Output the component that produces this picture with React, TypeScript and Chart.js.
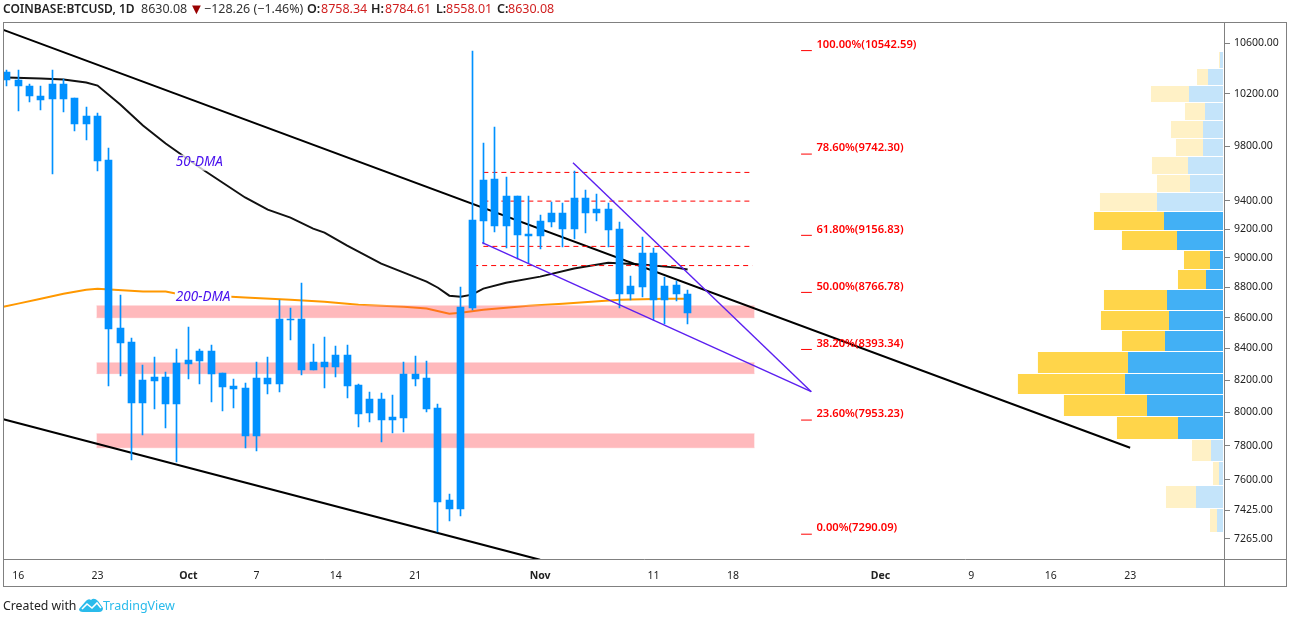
import { useEffect, useRef } from "react";
import { Chart, registerables } from "chart.js";

Chart.register(...registerables);

const FONT = '"Noto Sans", "Open Sans", sans-serif';

// Days are counted from 16 Sep (day 0). First candle sits one day before that.
const candleDays = Array.from({ length: 61 }, (_, i) => i - 1);
const highs = [
  10384, 10384, 10281, 10265, 10384, 10313, 10172, 10102, 10056, 9784, 8752, 8469, 8297, 8348, 8253, 8399,
  8541, 8399, 8424, 8246, 8209, 8183, 8316, 8348, 8719, 8665, 8832, 8431, 8476, 8418, 8424, 8177,
  8127, 8121, 8109, 8316, 8354, 8322, 8053, 7519, 8805, 10543, 9828, 9942, 9576, 9439, 9439, 9303,
  9396, 9389, 9614, 9482, 9453, 9382, 9253, 8880, 9148, 9072, 8873, 8846, 8784,
];
const lows = [
  10265, 10071, 10141, 10079, 9592, 10064, 9919, 9851, 9614, 8164, 8227, 7716, 7865, 8022, 7907, 7704,
  8209, 8177, 8066, 8010, 8028, 7787, 7769, 8115, 8127, 8456, 8234, 8265, 8152, 8221, 8090, 7913,
  7943, 7823, 7877, 7883, 8164, 8004, 7303, 7365, 7393, 8652, 9099, 9183, 9072, 8996, 8968, 9065,
  9218, 9079, 9134, 9176, 9260, 9079, 8665, 8719, 8738, 8586, 8560, 8712, 8558,
];
const bodyTops = [
  10368, 10305, 10265, 10187, 10281, 10281, 10172, 10033, 10033, 9701, 8534, 8443, 8202, 8221, 8221, 8309,
  8328, 8386, 8386, 8246, 8164, 8152, 8215, 8215, 8593, 8593, 8593, 8316, 8316, 8360, 8360, 8171,
  8084, 8084, 7973, 8240, 8240, 8215, 8028, 7485, 8672, 9267, 9554, 9562, 9439, 9439, 9169, 9260,
  9317, 9317, 9418, 9418, 9345, 9345, 9204, 8812, 9037, 9037, 8812, 8819, 8758,
];
const bodyBottoms = [
  10305, 10258, 10180, 10149, 10157, 10164, 9972, 9972, 9694, 8528, 8437, 8060, 8060, 8196, 8053, 8053,
  8303, 8322, 8240, 8158, 8146, 7859, 7859, 8177, 8177, 8586, 8265, 8265, 8284, 8284, 8164, 7992,
  7998, 7955, 7955, 7967, 8209, 8022, 7473, 7433, 7433, 8665, 9260, 9225, 9225, 9162, 9155, 9155,
  9253, 9204, 9204, 9317, 9317, 9197, 8758, 8758, 8805, 8719, 8719, 8758, 8630,
];

const dma50Days = [-1, 2, 4, 6, 7, 9, 11, 13, 16, 20, 22, 24, 26, 27, 29, 32, 34, 36, 37, 38, 39, 40, 41, 43, 46, 49, 52, 55, 58, 59];
const dma50Values = [
  10329, 10321, 10313, 10289, 10265, 10118, 9957, 9821, 9643, 9425, 9338, 9281, 9204, 9176, 9085, 8961,
  8900, 8839, 8798, 8745, 8738, 8752, 8792, 8832, 8873, 8928, 8968, 8955, 8934, 8921,
];
const dma200Days = [-1.3, 0, 2, 4, 6, 7, 11, 13, 14, 20, 24, 27, 30, 34, 36, 38, 39, 41, 45, 48, 53, 57, 59];
const dma200Values = [
  8672, 8692, 8725, 8758, 8785, 8792, 8772, 8772, 8758, 8732, 8718, 8705, 8685, 8672, 8659, 8625, 8632,
  8652, 8678, 8692, 8718, 8725, 8725,
];

const bandRanges = [
  [8599, 8678],
  [8240, 8309],
  [7787, 7871],
];
const bandStart = 6.9;
const bandEnd = 64.9;

const trendBlackUpper = [
  { x: -1.3, y: 10711 },
  { x: 98, y: 7787 },
];
const trendBlackLower = [
  { x: -1.3, y: 7958 },
  { x: 46, y: 7149 },
];
const wedgeUpper = [
  { x: 48.9, y: 9679 },
  { x: 69.9, y: 8127 },
];
const wedgeLower = [
  { x: 40.9, y: 9106 },
  { x: 69.9, y: 8127 },
];

const dashedLevels = [9607, 9399, 9080, 8948];
const dashedStarts = [41, 41, 41, 40.1];
const dashedEnd = 64.7;

const fibLevels = [10542.59, 9742.3, 9156.83, 8766.78, 8393.34, 7953.23, 7290.09];
const fibLabels = ["100.00%", "78.60%", "61.80%", "50.00%", "38.20%", "23.60%", "0.00%"];

const maLabels = ["50-DMA", "200-DMA"];
const maLabelDays = [13.9, 13.9];
const maLabelPrices = [9679, 8738];

// Volume profile rows, bottom to top
const profileEdges = [
  7298, 7433, 7565, 7704, 7835, 7973, 8109, 8240, 8379, 8515, 8645, 8785, 8921, 9051, 9190, 9324, 9460,
  9591, 9723, 9858, 9995, 10133, 10265, 10398, 10535,
];
const profileBuy = [6, 27, 4, 12, 45, 76, 98, 95, 58, 54, 56, 17, 13, 46, 59, 66, 33, 35, 20, 20, 18, 34, 15, 3];
const profileSell = [7, 30, 6, 19, 61, 83, 107, 90, 43, 68, 63, 28, 26, 55, 70, 57, 33, 36, 27, 32, 20, 38, 11, 1];
const profileStrong = [4, 14]; // rows inside the value area

const priceTicks = [10600, 10200, 9800, 9400, 9200, 9000, 8800, 8600, 8400, 8200, 8000, 7800, 7600, 7425, 7265];
const dayTicks = [0, 7, 15, 21, 28, 35, 46, 56, 63, 76, 84, 91, 98];
const dayTickLabels = ["16", "23", "Oct", "7", "14", "21", "Nov", "11", "18", "Dec", "9", "16", "23"];
const monthTicks = ["Oct", "Nov", "Dec"];

const CANDLE = "#0091ff";
const FRAME = "#808080";

const pairs = (xs: number[], ys: number[]) => xs.map((x, i) => ({ x, y: ys[i] }));

const overlayPlugin = {
  id: "overlay",
  // candles are pixel-snapped, the way the original renderer draws them
  afterDatasetsUpdate(chart: Chart) {
    chart.data.datasets.forEach((ds: any, i) => {
      if (ds.label !== "wicks" && ds.label !== "bodies") return;
      chart.getDatasetMeta(i).data.forEach((el: any) => {
        el.x = Math.floor(el.x) + 0.5;
        el.y = Math.round(el.y);
        el.base = Math.round(el.base);
      });
    });
  },
  beforeDatasetsDraw(chart: Chart) {
    const { ctx, scales } = chart;
    const y = scales.y;
    const v = scales.xVol;
    ctx.save();
    profileBuy.forEach((buy, i) => {
      const strong = i >= profileStrong[0] && i <= profileStrong[1];
      const top = Math.round(y.getPixelForValue(profileEdges[i + 1]));
      const h = Math.round(y.getPixelForValue(profileEdges[i])) - top - 1;
      const x0 = v.getPixelForValue(2);
      const x1 = v.getPixelForValue(2 + buy);
      const x2 = v.getPixelForValue(2 + buy + profileSell[i]);
      ctx.fillStyle = strong ? "#42b0f5" : "#c4e4fa";
      ctx.fillRect(x1, top, x0 - x1, h);
      ctx.fillStyle = strong ? "#ffd54a" : "#fff1c6";
      ctx.fillRect(x2, top, x1 - x2, h);
    });
    ctx.restore();
  },
  afterDatasetsDraw(chart: Chart) {
    const { ctx, scales } = chart;
    const x = scales.x;
    const y = scales.y;
    ctx.save();
    ctx.textBaseline = "middle";
    ctx.textAlign = "left";
    ctx.font = `italic 13.5px ${FONT}`;
    maLabels.forEach((label, i) => {
      const px = x.getPixelForValue(maLabelDays[i]);
      const py = y.getPixelForValue(maLabelPrices[i]);
      const w = ctx.measureText(label).width;
      ctx.fillStyle = i === 0 ? "rgba(255,255,255,0.75)" : "#ffffff";
      ctx.fillRect(px - 1, py - 8, w + 2, 16);
      ctx.fillStyle = "#4a12ee";
      ctx.fillText(label, px, py);
    });
    ctx.font = `600 11.2px ${FONT}`;
    ctx.fillStyle = "#ff0000";
    fibLevels.forEach((level, i) => {
      const text = `${fibLabels[i]}(${level.toFixed(2)})`;
      ctx.fillText(text, x.getPixelForValue(70.35), y.getPixelForValue(level) - 6);
    });
    ctx.restore();
  },
  afterDraw(chart: Chart) {
    // outer frame of the TradingView pane plus the time axis line running into the price column
    const { ctx } = chart;
    const b = chart.chartArea;
    ctx.save();
    ctx.strokeStyle = FRAME;
    ctx.lineWidth = 1;
    ctx.strokeRect(3.5, 22.5, 1283, 564);
    ctx.beginPath();
    ctx.moveTo(b.left, 559.5);
    ctx.lineTo(1286, 559.5);
    ctx.moveTo(1224.5, 22);
    ctx.lineTo(1224.5, 586);
    ctx.stroke();
    ctx.restore();
  },
};

function line(data: { x: number; y: number }[], color: string, width: number, order: number, extra = {}) {
  return {
    type: "line" as const,
    data,
    borderColor: color,
    borderWidth: width,
    pointRadius: 0,
    tension: 0,
    fill: false,
    order,
    ...extra,
  };
}

function BtcChart() {
  const canvasRef = useRef<HTMLCanvasElement>(null);

  useEffect(() => {
    const ctx = canvasRef.current?.getContext("2d");
    if (!ctx) return;

    const bandSets = bandRanges.flatMap(([lo, hi]) => [
      line([{ x: bandStart, y: lo }, { x: bandEnd, y: lo }], "rgba(255,183,188,0.45)", 1, 6),
      line([{ x: bandStart, y: hi }, { x: bandEnd, y: hi }], "rgba(255,183,188,0.45)", 1, 6, {
        fill: "-1",
        backgroundColor: "rgba(255,60,70,0.36)",
      }),
    ]);

    const chart = new Chart(ctx, {
      type: "bar",
      data: {
        datasets: [
          line(pairs(dma50Days, dma50Values), "#111111", 2, 8),
          line(pairs(dma200Days, dma200Values), "#ff9800", 2, 8),
          ...bandSets,
          line(trendBlackUpper, "#000000", 2, 5),
          line(trendBlackLower, "#000000", 2, 5),
          ...dashedLevels.map((level, i) =>
            line([{ x: dashedStarts[i], y: level }, { x: dashedEnd, y: level }], "#ff0000", 1, 4, { borderDash: [5, 4] }),
          ),
          {
            label: "wicks",
            data: candleDays.map((d, i) => ({ x: d, y: [lows[i], highs[i]] })),
            backgroundColor: CANDLE,
            barThickness: 1,
            grouped: false,
            order: 3,
          },
          {
            label: "bodies",
            data: candleDays.map((d, i) => ({ x: d, y: [bodyBottoms[i], bodyTops[i]] })),
            backgroundColor: CANDLE,
            barThickness: 7,
            grouped: false,
            order: 2,
          },
          line(wedgeUpper, "#5b1ff0", 1.4, 1),
          line(wedgeLower, "#5b1ff0", 1.4, 1),
          ...fibLevels.map((level) => line([{ x: 69, y: level }, { x: 69.95, y: level }], "#ff0000", 1, 1)),
        ] as any,
      },
      options: {
        animation: false,
        responsive: false,
        events: [],
        layout: { padding: { left: 3.5, top: 22.5, right: 3, bottom: 30 } },
        plugins: { legend: { display: false }, tooltip: { enabled: false } },
        scales: {
          x: {
            type: "linear",
            offset: false,
            min: -1.29,
            max: 106.36,
            grid: { display: false, drawOnChartArea: false, drawTicks: true, tickLength: 4, tickColor: FRAME } as any,
            border: { display: false },
            afterBuildTicks: (s: any) => {
              s.ticks = dayTicks.map((value) => ({ value }));
            },
            afterFit: (s: any) => {
              s.height = 27;
            },
            ticks: {
              autoSkip: false,
              maxRotation: 0,
              color: "#222222",
              padding: 6,
              font: (c: any) => ({
                family: FONT,
                size: 10.5,
                weight: monthTicks.includes(dayTickLabels[dayTicks.indexOf(c.tick?.value)]) ? "bold" : "normal",
              }),
              callback: (v: any) => dayTickLabels[dayTicks.indexOf(v)],
            },
          },
          // zero-height axis that the volume profile hangs off, growing leftwards from the price column
          xVol: {
            type: "linear",
            axis: "x",
            position: "bottom",
            offset: false,
            reverse: true,
            min: 0,
            max: 1221,
            grid: { display: false },
            border: { display: false },
            ticks: { display: false },
            afterFit: (s: any) => {
              s.height = 0;
            },
          } as any,
          y: {
            type: "logarithmic",
            position: "right",
            min: 7148,
            max: 10771,
            grid: { drawOnChartArea: false, drawTicks: true, tickLength: 5, tickColor: FRAME },
            border: { display: false },
            afterBuildTicks: (s: any) => {
              s.ticks = priceTicks.map((value) => ({ value }));
            },
            afterFit: (s: any) => {
              s.width = 62;
            },
            ticks: {
              autoSkip: false,
              color: "#222222",
              padding: 4,
              font: { family: FONT, size: 10.5 },
              callback: (v: any) => Number(v).toFixed(2),
            },
          },
        },
      },
      plugins: [overlayPlugin],
    });
    return () => chart.destroy();
  }, []);

  return <canvas ref={canvasRef} width={1290} height={617} style={{ position: "absolute", left: 0, top: 0 }} />;
}

function Hdr({ left, color, bold, size, children }: { left: number; color: string; bold?: boolean; size?: number; children: any }) {
  return (
    <span style={{ position: "absolute", left, top: 0, lineHeight: "17px", color, fontSize: size, fontWeight: bold ? 600 : 400, whiteSpace: "nowrap" }}>
      {children}
    </span>
  );
}

export default function App() {
  const red = "#d01f1f";
  return (
    <div style={{ position: "relative", width: 1290, height: 617, background: "#fff", fontFamily: FONT, fontSize: 12.5 }}>
      <style>{"body{margin:0}"}</style>
      <BtcChart />
      <Hdr left={3} color="#222" bold size={12}>COINBASE:BTCUSD, 1D</Hdr>
      <Hdr left={141} color="#333">8630.08</Hdr>
      <Hdr left={189} color="#990000" size={15}>▼</Hdr>
      <Hdr left={204} color="#333">−128.26 (−1.46%)</Hdr>
      <Hdr left={307} color="#222" bold>O:</Hdr>
      <Hdr left={321} color={red}>8758.34</Hdr>
      <Hdr left={371} color="#222" bold>H:</Hdr>
      <Hdr left={385} color={red}>8784.61</Hdr>
      <Hdr left={436} color="#222" bold>L:</Hdr>
      <Hdr left={446} color={red}>8558.01</Hdr>
      <Hdr left={497} color="#222" bold>C:</Hdr>
      <Hdr left={508} color={red}>8630.08</Hdr>
      <div style={{ position: "absolute", left: 3, top: 597, lineHeight: "17px", fontSize: 12.3, color: "#222" }}>Created with</div>
      <svg style={{ position: "absolute", left: 79, top: 597 }} width={24} height={16} viewBox="0 0 24 16">
        <path d="M0 12 L6 5 Q9 1 12 3 Q15 0 19 4 L24 11 Q24 15 20 15 L4 15 Q0 15 0 12 Z" fill="#2abbeb" />
        <path d="M3 12 L8 7 L13 11 L18 6 L22 11" stroke="#fff" strokeWidth={1.6} fill="none" />
      </svg>
      <div style={{ position: "absolute", left: 103, top: 597, lineHeight: "17px", fontSize: 12.5, color: "#2abbeb" }}>TradingView</div>
    </div>
  );
}
